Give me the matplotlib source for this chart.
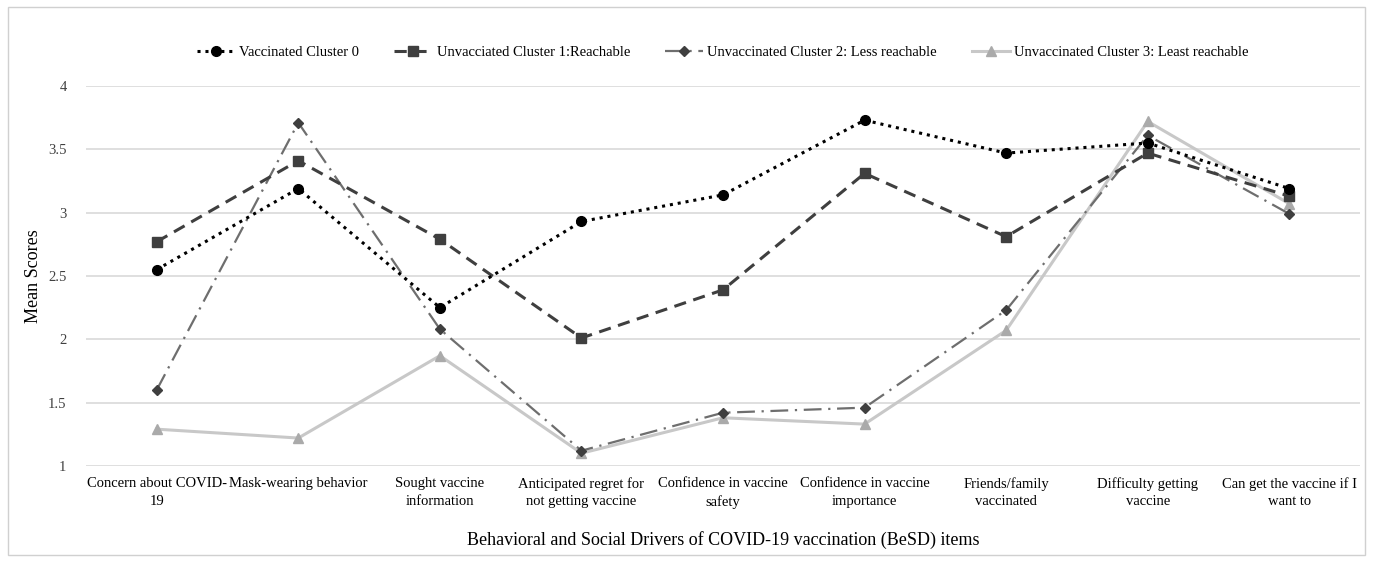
import numpy as np
import matplotlib.pyplot as plt
from matplotlib.patches import Rectangle

plt.rcParams['font.family'] = ['Liberation Serif', 'DejaVu Serif']

items = ["Concern about COVID-\n19", "Mask-wearing behavior", "Sought vaccine\ninformation",
         "Anticipated regret for\nnot getting vaccine", "Confidence in vaccine\nsafety",
         "Confidence in vaccine\nimportance", "Friends/family\nvaccinated",
         "Difficulty getting\nvaccine", "Can get the vaccine if I\nwant to"]
c0 = [2.55, 3.19, 2.25, 2.93, 3.14, 3.73, 3.47, 3.55, 3.19]
c1 = [2.77, 3.41, 2.79, 2.01, 2.39, 3.31, 2.81, 3.47, 3.13]
c2 = [1.60, 3.71, 2.08, 1.12, 1.42, 1.46, 2.23, 3.61, 2.99]
c3 = [1.29, 1.22, 1.87, 1.10, 1.38, 1.33, 2.07, 3.72, 3.07]

fig = plt.figure(figsize=(13.73, 5.62), dpi=100)
fig.patches.append(Rectangle((0.006, 0.012), 0.988, 0.976, transform=fig.transFigure,
                             fill=False, edgecolor="#d0d0d0", lw=1))
ax = fig.add_axes([0.0626, 0.171, 0.928, 0.676])

x = np.arange(len(items))
ax.plot(x, c0, color="black", ls=(0, (1, 1.6)), lw=2.2, marker="o", ms=7,
        label="Vaccinated Cluster 0", zorder=5)
ax.plot(x, c1, color="#3f3f3f", ls=(0, (4, 2.5)), lw=2.2, marker="s", ms=7,
        label="Unvacciated Cluster 1:Reachable", zorder=4)
ax.plot(x, c2, color="#6e6e6e", ls=(0, (8, 3, 1, 3)), lw=1.6, marker="D", ms=5,
        mfc="#3f3f3f", mec="#3f3f3f", label="Unvaccinated Cluster 2: Less reachable", zorder=3)
ax.plot(x, c3, color="#c8c8c8", ls="-", lw=2.2, marker="^", ms=7,
        mfc="#aaaaaa", mec="#aaaaaa", label="Unvaccinated Cluster 3: Least reachable", zorder=2)

ax.set_xlim(-0.5, len(items) - 0.5)
ax.set_ylim(1, 4)
ax.set_yticks([1, 1.5, 2, 2.5, 3, 3.5, 4])
ax.set_yticklabels(["1", "1.5", "2", "2.5", "3", "3.5", "4"])
ax.set_xticks(x)
ax.set_xticklabels(items, fontsize=10.5)
for lab in ax.get_xticklabels():
    lab.set_linespacing(1.45)
ax.tick_params(axis="y", length=0, pad=14, labelsize=10.5, labelcolor="#404040")
ax.tick_params(axis="x", length=0, pad=8)
ax.grid(axis="y", color="#d9d9d9", lw=1.2)
ax.set_axisbelow(True)
for s in ax.spines.values():
    s.set_visible(False)

ax.set_ylabel("Mean Scores", fontsize=13, labelpad=4)
ax.set_xlabel("Behavioral and Social Drivers of COVID-19 vaccination (BeSD) items",
              fontsize=13, labelpad=16)
ax.legend(loc="center", bbox_to_anchor=(0.5, 1.089), ncol=4, frameon=False,
          fontsize=10.5, handlelength=2.6, handletextpad=0.3, columnspacing=2.4)

plt.savefig("out.png", dpi=100)
